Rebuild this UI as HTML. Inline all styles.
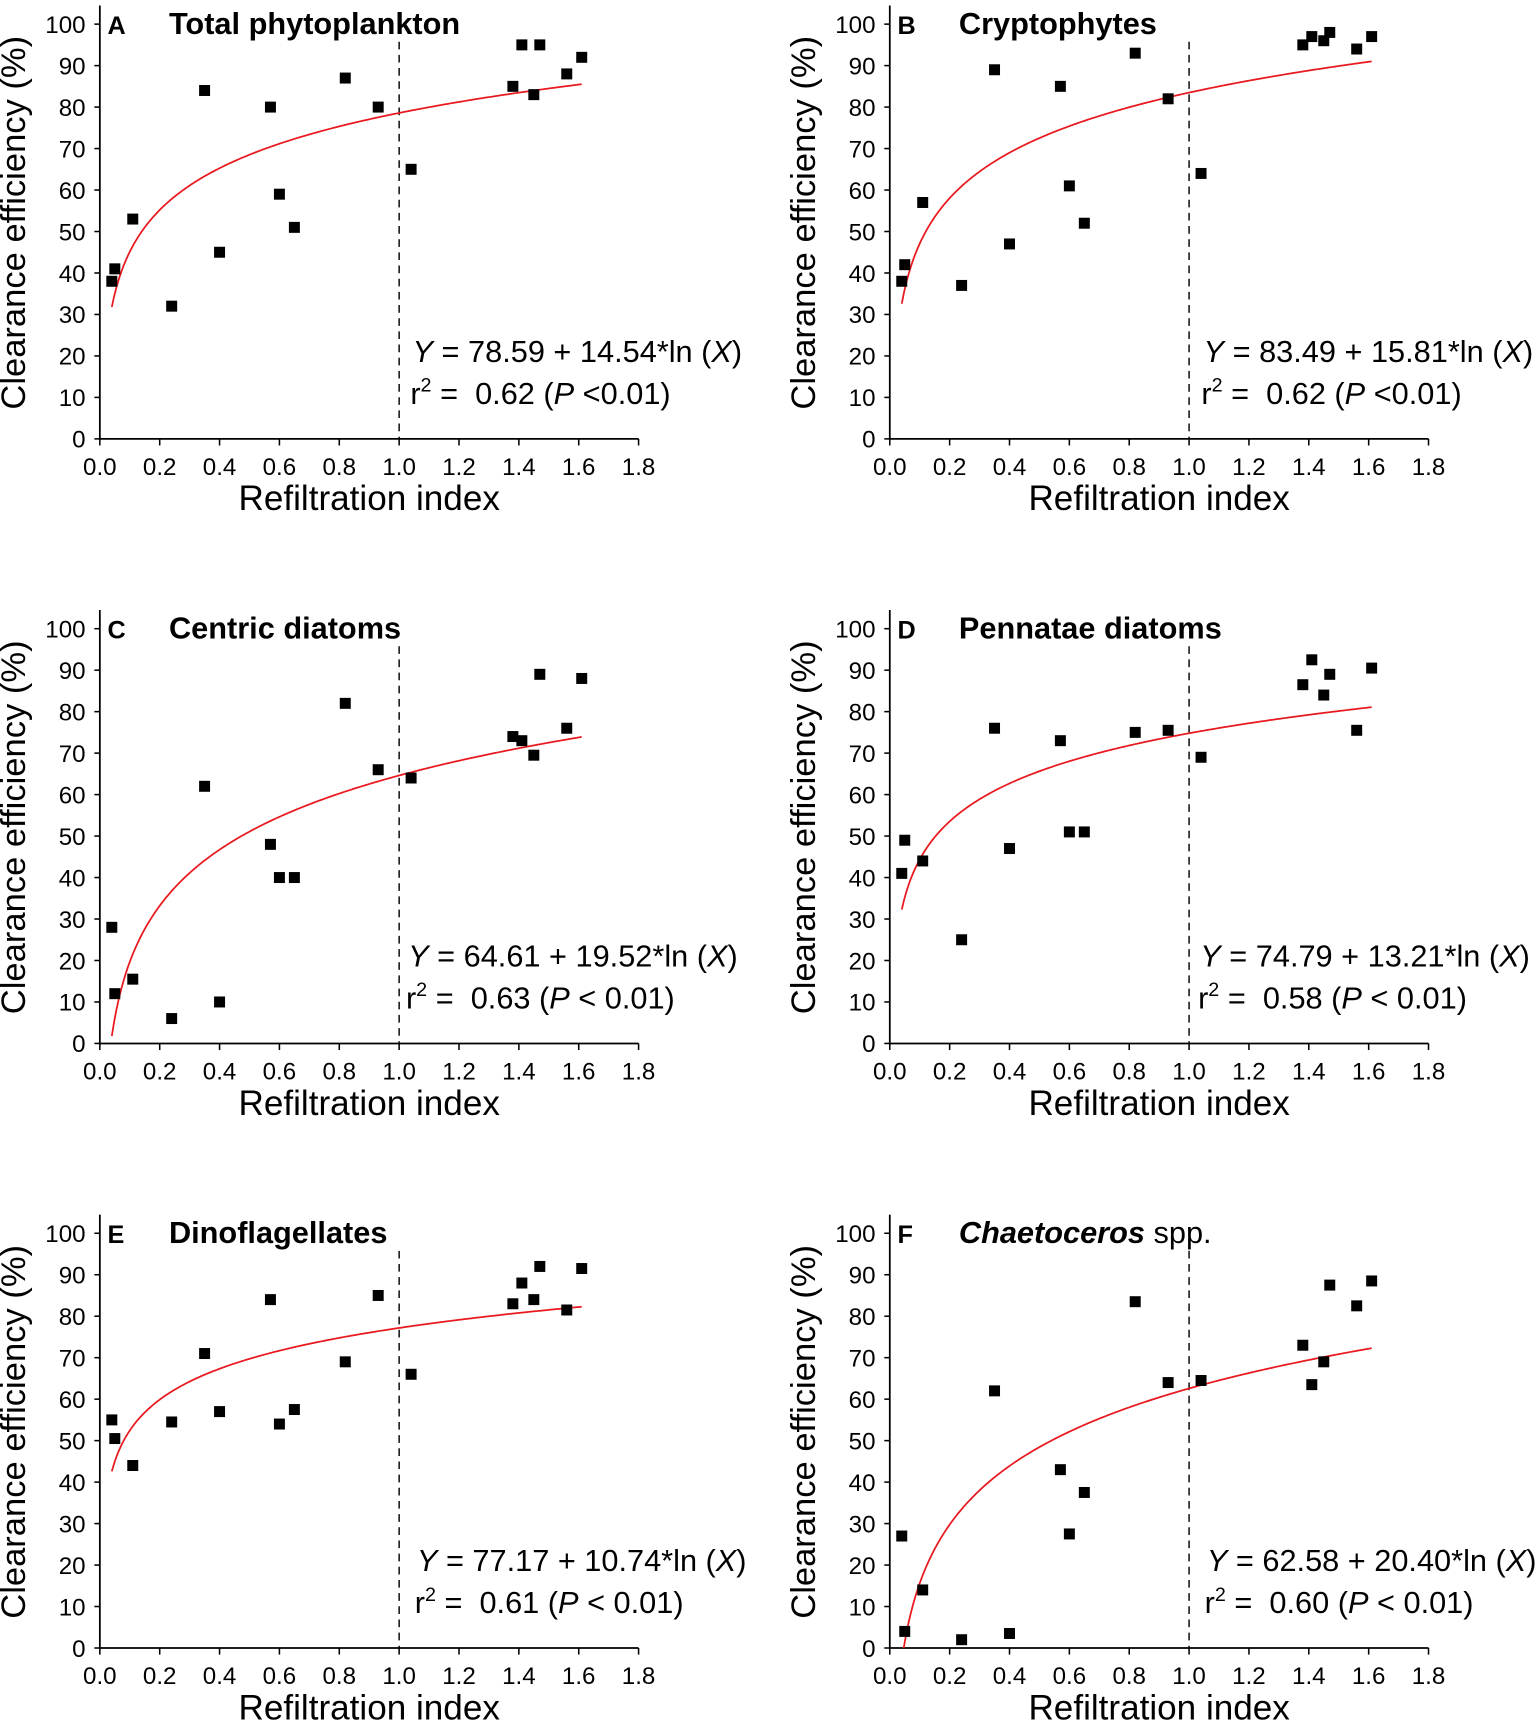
<!DOCTYPE html>
<html><head><meta charset="utf-8"><style>
html,body{margin:0;padding:0;background:#fff}
svg{display:block}
text{font-family:"Liberation Sans",Arial,sans-serif;fill:#000}
</style></head><body>
<svg id="fig" width="1536" height="1727" viewBox="0 0 1400 1574" preserveAspectRatio="none" xmlns="http://www.w3.org/2000/svg"></svg>
<script>
const xVals=[0.04,0.05,0.11,0.24,0.35,0.40,0.57,0.60,0.65,0.82,0.93,1.04,1.38,1.41,1.45,1.47,1.56,1.61];
const seriesA=[38,41,53,32,84,45,80,59,51,87,80,65,85,95,83,95,88,92];
const seriesB=[38,42,57,37,89,47,85,61,52,93,82,64,95,97,96,98,94,97];
const seriesC=[28,12,15.5,6,62,10,48,40,40,82,66,64,74,73,69.5,89,76,88];
const seriesD=[41,49,44,25,76,47,73,51,51,75,75.5,69,86.5,92.5,84,89,75.5,90.5];
const seriesE=[55,50.5,44,54.5,71,57,84,54,57.5,69,85,66,83,88,84,92,81.5,91.5];
const seriesF=[27,4,14,2,62,3.5,43,27.5,37.5,83.5,64,64.5,73,63.5,69,87.5,82.5,88.5];
const fitA=[78.59,14.54],fitB=[83.49,15.81],fitC=[64.61,19.52],fitD=[74.79,13.21],fitE=[77.17,10.74],fitF=[62.58,20.40];
const r2s=["0.62","0.62","0.63","0.58","0.61","0.60"];
const pTexts=["<0.01","<0.01","< 0.01","< 0.01","< 0.01","< 0.01"];
const xTicks=[0,0.2,0.4,0.6,0.8,1.0,1.2,1.4,1.6,1.8];
const yTicks=[0,10,20,30,40,50,60,70,80,90,100];
const letters=["A","B","C","D","E","F"];
const titles=["Total phytoplankton","Cryptophytes","Centric diatoms","Pennatae diatoms","Dinoflagellates","Chaetoceros"];

const NS="http://www.w3.org/2000/svg";
const svg=document.getElementById('fig');
function mk(tag,attrs,parent,txt){const e=document.createElementNS(NS,tag);for(const k in attrs)e.setAttribute(k,attrs[k]);if(txt!==undefined)e.textContent=txt;parent.appendChild(e);return e;}
const panels=[
 {ox:91,oy:400,s:seriesA,f:fitA,eq:376},
 {ox:811,oy:400,s:seriesB,f:fitB,eq:1097},
 {ox:91,oy:951,s:seriesC,f:fitC,eq:372},
 {ox:811,oy:951,s:seriesD,f:fitD,eq:1094},
 {ox:91,oy:1502,s:seriesE,f:fitE,eq:380},
 {ox:811,oy:1502,s:seriesF,f:fitF,eq:1100}];
panels.forEach((p,i)=>{
 const g=mk('g',{},svg);
 
 
 const X=v=>p.ox+v*272.8, Y=v=>p.oy-v*3.78;
 const ax=mk('path',{d:`M${p.ox} ${p.oy-395}V${p.oy}H${X(1.8)}`,stroke:'#000','stroke-width':1.6,fill:'none'},g);
 
 yTicks.forEach(t=>{
  mk('line',{x1:p.ox-5,x2:p.ox,y1:Y(t),y2:Y(t),stroke:'#000','stroke-width':1.4},g);
  const tl=mk('text',{x:p.ox-13,y:Y(t)+8,'text-anchor':'end','font-size':22},g,String(t));
  
 });
 xTicks.forEach(t=>{
  mk('line',{x1:X(t),x2:X(t),y1:p.oy,y2:p.oy+6,stroke:'#000','stroke-width':1.4},g);
  const tl=mk('text',{x:X(t),y:p.oy+33,'text-anchor':'middle','font-size':22},g,t.toFixed(1));
  
 });
 const yt=mk('text',{transform:`translate(${p.ox-68},${p.oy-197}) rotate(-90)`,'text-anchor':'middle','font-size':31.5},g,'Clearance efficiency (%)');
 
 const xt=mk('text',{x:X(0.9),y:p.oy+65,'text-anchor':'middle','font-size':32},g,'Refiltration index');
 
 const lt=mk('text',{x:p.ox+7,y:p.oy-369,'font-size':23,'font-weight':'bold'},g,letters[i]);
 
 const tt=mk('text',{x:p.ox+63,y:p.oy-369,'font-size':28,'font-weight':'bold'},g);
 
 if(i===5){mk('tspan',{'font-style':'italic'},tt,titles[i]);mk('tspan',{'font-weight':'normal'},tt,' spp.');}else tt.textContent=titles[i];
 const dl=mk('line',{x1:X(1),x2:X(1),y1:p.oy-362,y2:p.oy,stroke:'#000','stroke-width':1.3,'stroke-dasharray':'7,5'},g);
 
 let d='';const x0=Math.max(0.04,Math.exp(-p.f[0]/p.f[1]));
 for(let k=0;k<=200;k++){const v=x0+(1.61-x0)*k/200;const yv=Math.max(0,p.f[0]+p.f[1]*Math.log(v));d+=(k?'L':'M')+X(v).toFixed(2)+' '+Y(yv).toFixed(2);}
 const fl=mk('path',{d:d,stroke:'#e8191f','stroke-width':1.6,fill:'none'},g);
 
 p.s.forEach((v,j)=>{
  const r=mk('rect',{x:X(xVals[j])-5,y:Y(v)-5,width:10,height:10,fill:'#000'},g);
  
 });
 const eq=mk('text',{x:p.eq,y:p.oy-70,'font-size':28},g);
 
 mk('tspan',{'font-style':'italic'},eq,'Y');
 mk('tspan',{},eq,` = ${p.f[0].toFixed(2)} + ${p.f[1].toFixed(2)}*ln (`);
 mk('tspan',{'font-style':'italic'},eq,'X');
 mk('tspan',{},eq,')');
 const rt=mk('text',{x:p.eq-2,y:p.oy-32,'font-size':28,'xml:space':'preserve','style':'white-space:pre'},g);
 
 mk('tspan',{},rt,'r');
 mk('tspan',{dy:-11,'font-size':18},rt,'2');
 mk('tspan',{dy:11},rt,` =  ${r2s[i]} (`);
 mk('tspan',{'font-style':'italic'},rt,'P');
 mk('tspan',{},rt,' '+pTexts[i]+')');
});
</script>
</body></html>
